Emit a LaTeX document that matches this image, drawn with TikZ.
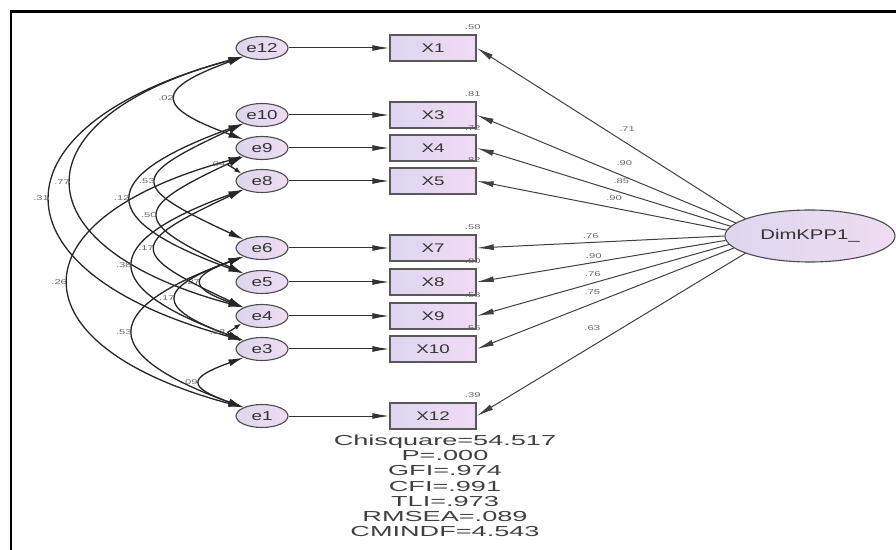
\documentclass[tikz,border=0pt]{standalone}
\usepackage{fontspec}
\setmainfont{Liberation Sans}
\usetikzlibrary{positioning,shapes.geometric,arrows.meta}
\definecolor{errleft}{RGB}{222,214,238}
\definecolor{errright}{RGB}{238,220,242}
\definecolor{boxleft}{RGB}{220,214,240}
\definecolor{boxright}{RGB}{242,218,244}
\newcommand{\stretchx}[2][1.5]{\scalebox{#1}[1]{#2}}
\tikzset{
  errterm/.style={ellipse, draw=black!70, line width=1.1pt, left color=errleft, right color=errright,
    minimum width=52pt, minimum height=23pt, inner sep=0pt, text=black!80, font=\fontsize{13}{13}\selectfont},
  item/.style={rectangle, draw=black!65, line width=1.5pt, left color=boxleft, right color=boxright,
    minimum width=86pt, minimum height=26pt, inner sep=0pt, text=black!80, font=\fontsize{12.5}{12.5}\selectfont},
  factor/.style={ellipse, draw=black!70, line width=1.1pt, left color=errleft, right color=errright,
    minimum width=170pt, minimum height=52pt, inner sep=0pt, text=black!80, font=\fontsize{14}{14}\selectfont},
  regpath/.style={-{Latex[length=17pt,width=6pt]}, draw=black!80, line width=1pt},
  loadpath/.style={-{Latex[length=17pt,width=6pt]}, draw=black!75, line width=1pt},
  covpath/.style={{Latex[length=15pt,width=7pt]}-{Latex[length=15pt,width=7pt]}, draw=black!85, line width=1.3pt},
  shortcov/.style={{Latex[length=7pt,width=5pt]}-{Latex[length=7pt,width=5pt]}, draw=black!85, line width=1.3pt},
  coef/.style={font=\fontsize{7}{7}\selectfont, text=black!60, inner sep=0pt},
  fitstats/.style={align=center, font=\fontsize{14.5}{15.2}\selectfont, text=black!75, inner sep=0pt}
}
\begin{document}
\begin{tikzpicture}[x=1pt, y=1pt, node distance=171pt]
\useasboundingbox (0,0) rectangle (896,549);
\draw[line width=2.8pt] (11,-5) -- (11,537.5) -- (900,537.5);

\node (e12) [errterm] at (262,501) {\stretchx[1.45]{e12}};
\node (e10) [errterm] at (262,434) {\stretchx[1.45]{e10}};
\node (e9) [errterm] at (262,401) {\stretchx[1.45]{e9}};
\node (e8) [errterm] at (262,368) {\stretchx[1.45]{e8}};
\node (e6) [errterm] at (262,301) {\stretchx[1.45]{e6}};
\node (e5) [errterm] at (262,267) {\stretchx[1.45]{e5}};
\node (e4) [errterm] at (262,233) {\stretchx[1.45]{e4}};
\node (e3) [errterm] at (262,200) {\stretchx[1.45]{e3}};
\node (e1) [errterm] at (262,133) {\stretchx[1.45]{e1}};

\node (x1) [item, right of=e12] {\stretchx{X1}};
\node (x3) [item, right of=e10] {\stretchx{X3}};
\node (x4) [item, right of=e9] {\stretchx{X4}};
\node (x5) [item, right of=e8] {\stretchx{X5}};
\node (x7) [item, right of=e6] {\stretchx{X7}};
\node (x8) [item, right of=e5] {\stretchx{X8}};
\node (x9) [item, right of=e4] {\stretchx{X9}};
\node (x10) [item, right of=e3] {\stretchx{X10}};
\node (x12) [item, right of=e1] {\stretchx{X12}};

\node (dim) [factor] at (810,313) {\stretchx[1.45]{DimKPP1\_}};

\node (r1) [coef, above left=4pt and -4pt of x1.north east] {\stretchx[1.6]{.50}};
\node (r3) [coef, above left=4pt and -4pt of x3.north east] {\stretchx[1.6]{.81}};
\node (r4) [coef, above left=4pt and -4pt of x4.north east] {\stretchx[1.6]{.72}};
\node (r5) [coef, above left=4pt and -4pt of x5.north east] {\stretchx[1.6]{.82}};
\node (r7) [coef, above left=4pt and -4pt of x7.north east] {\stretchx[1.6]{.58}};
\node (r8) [coef, above left=4pt and -4pt of x8.north east] {\stretchx[1.6]{.80}};
\node (r9) [coef, above left=4pt and -4pt of x9.north east] {\stretchx[1.6]{.58}};
\node (r10) [coef, above left=4pt and -4pt of x10.north east] {\stretchx[1.6]{.56}};
\node (r12) [coef, above left=4pt and -4pt of x12.north east] {\stretchx[1.6]{.39}};

\draw[regpath] (e12) -- (x1);
\draw[regpath] (e10) -- (x3);
\draw[regpath] (e9) -- (x4);
\draw[regpath] (e8) -- (x5);
\draw[regpath] (e6) -- (x7);
\draw[regpath] (e5) -- (x8);
\draw[regpath] (e4) -- (x9);
\draw[regpath] (e3) -- (x10);
\draw[regpath] (e1) -- (x12);

\draw[loadpath] (dim.165) -- node[coef, pos=0.44, above=12pt] {\stretchx[1.6]{.71}} (x1.east);
\draw[loadpath] (dim.170) -- node[coef, pos=0.43, above=10pt] {\stretchx[1.6]{.90}} (x3.east);
\draw[loadpath] (dim.173) -- node[coef, pos=0.43, above=9pt] {\stretchx[1.6]{.85}} (x4.east);
\draw[loadpath] (dim.176) -- node[coef, pos=0.45, above=6.5pt] {\stretchx[1.6]{.90}} (x5.east);
\draw[loadpath] (dim.west) -- node[coef, pos=0.54, above=3.5pt] {\stretchx[1.6]{.76}} (x7.east);
\draw[loadpath] (dim.183) -- node[coef, pos=0.53, above=3.5pt] {\stretchx[1.6]{.90}} (x8.east);
\draw[loadpath] (dim.186) -- node[coef, pos=0.54, above=6.5pt] {\stretchx[1.6]{.76}} (x9.east);
\draw[loadpath] (dim.189) -- node[coef, pos=0.55, above=8.5pt] {\stretchx[1.6]{.75}} (x10.east);
\draw[loadpath] (dim.195) -- node[coef, pos=0.57, above=14.5pt] {\stretchx[1.6]{.63}} (x12.east);

\draw[covpath] (e12.205) to[out=200, in=160, distance=95pt] node[coef, left=2pt] {\stretchx[1.6]{.02}} (e9.155);
\draw[covpath] (e12.205) to[out=195, in=165, distance=236pt] node[coef, left=2pt] {\stretchx[1.6]{.77}} (e4.155);
\draw[covpath] (e12.205) to[out=195, in=165, distance=265pt] node[coef, left=2pt] {\stretchx[1.6]{.31}} (e3.155);
\draw[covpath] (e10.205) to[out=200, in=160, distance=158pt] node[coef, left=2pt] {\stretchx[1.6]{.12}} (e5.155);
\draw[covpath] (e10.205) to[out=205, in=155, distance=127pt] node[coef, left=2pt] {\stretchx[1.6]{.53}} (e6.155);
\draw[covpath] (e9.205) to[out=205, in=155, distance=124pt] node[coef, left=2pt] {\stretchx[1.6]{.50}} (e5.155);
\draw[shortcov] (e9.200) to[out=215, in=145, distance=20pt] node[coef, left=3pt] {\stretchx[1.6]{.04}} (e8.160);
\draw[covpath] (e9.205) to[out=195, in=165, distance=240pt] node[coef, left=2pt] {\stretchx[1.6]{.26}} (e1.155);
\draw[covpath] (e8.205) to[out=205, in=155, distance=128pt] node[coef, left=2pt] {\stretchx[1.6]{.17}} (e4.155);
\draw[covpath] (e8.205) to[out=200, in=160, distance=155pt] node[coef, left=2pt] {\stretchx[1.6]{.38}} (e3.155);
\draw[covpath] (e6.205) to[out=200, in=160, distance=58pt] node[coef, left=2pt] {\stretchx[1.6]{.27}} (e4.155);
\draw[covpath] (e6.205) to[out=200, in=160, distance=94pt] node[coef, left=2pt] {\stretchx[1.6]{.17}} (e3.155);
\draw[covpath] (e6.205) to[out=200, in=160, distance=155pt] node[coef, left=2pt] {\stretchx[1.6]{.53}} (e1.155);
\draw[shortcov] (e4.200) to[out=215, in=145, distance=20pt] node[coef, left=3pt] {\stretchx[1.6]{.12}} (e3.160);
\draw[covpath] (e3.205) to[out=200, in=160, distance=60pt] node[coef, left=3pt] {\stretchx[1.6]{.09}} (e1.155);

\node (fit) [fitstats, below=5pt of x12, xshift=12pt] {\stretchx[1.87]{Chisquare=54.517}\\
  \stretchx[1.87]{P=.000}\\ \stretchx[1.87]{GFI=.974}\\ \stretchx[1.87]{CFI=.991}\\
  \stretchx[1.87]{TLI=.973}\\ \stretchx[1.87]{RMSEA=.089}\\ \stretchx[1.87]{CMINDF=4.543}};
\end{tikzpicture}
\end{document}
